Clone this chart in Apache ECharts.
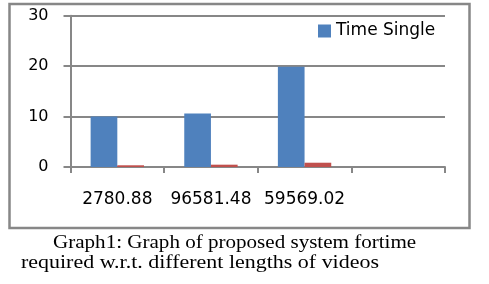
<!DOCTYPE html>
<html>
<head>
<meta charset="utf-8">
<script src="https://cdn.jsdelivr.net/npm/echarts@6/dist/echarts.min.js"></script>
<style>
html,body{margin:0;padding:0;background:#fff;}
#chart{width:489px;height:284px;}
</style>
</head>
<body>
<div id="chart"></div>
<script>
const categories = ['2780.88', '96581.48', '59569.02', ''];
const timeSingle = [10, 10.6, 19.9, null];
const timeOther = [0.34, 0.46, 0.85, null];
const yTicks = { min: 0, max: 30, interval: 10 };
const captionLine1 = 'Graph1: Graph of proposed system fortime';
const captionLine2 = 'required w.r.t. different lengths of videos';

const chart = echarts.init(document.getElementById('chart'), null, { renderer: 'canvas' });
const gray = '#878787';
const option = {
  animation: false,
  backgroundColor: '#fff',
  grid: { left: 70.5, right: 44, top: 15.7, bottom: 117 },
  legend: {
    data: ['Time Single'],
    left: 318, top: 22.5, padding: 0,
    itemWidth: 13, itemHeight: 13, itemGap: 10,
    icon: 'rect',
    textStyle: { fontFamily: 'DejaVu Sans', fontSize: 17, color: '#000' }
  },
  xAxis: {
    type: 'category',
    data: categories,
    axisLine: { lineStyle: { color: gray, width: 2 } },
    axisTick: { show: true, length: 6, lineStyle: { color: gray, width: 2 } },
    axisLabel: { fontFamily: 'DejaVu Sans', fontSize: 17, color: '#000', margin: 24, interval: 0 }
  },
  yAxis: {
    type: 'value',
    min: yTicks.min, max: yTicks.max, interval: yTicks.interval,
    axisLine: { show: true, lineStyle: { color: gray, width: 2 } },
    axisTick: { show: true, length: 7, lineStyle: { color: gray, width: 2 } },
    splitLine: { show: true, lineStyle: { color: gray, width: 2 } },
    axisLabel: { fontFamily: 'DejaVu Sans', fontSize: 16, color: '#000', margin: 22 }
  },
  series: [
    { name: 'Time Single', type: 'bar', data: timeSingle, barGap: '0%', barCategoryGap: '43%',
      itemStyle: { color: '#4F81BD' } },
    { name: 'Time Multi', type: 'bar', data: timeOther,
      itemStyle: { color: '#C0504D' } }
  ],
  graphic: [
    { type: 'rect', shape: { x: 9.5, y: 4, width: 460, height: 224 },
      style: { fill: 'none', stroke: gray, lineWidth: 2.5 }, silent: true },
    { type: 'text', x: 53, y: 252, scaleX: 1.17, originX: 0,
      style: { text: captionLine1, fontFamily: 'Liberation Serif', fontSize: 18, fill: '#000',
               textVerticalAlign: 'bottom', verticalAlign: 'bottom' } },
    { type: 'text', x: 21, y: 272, scaleX: 1.22, originX: 0,
      style: { text: captionLine2, fontFamily: 'Liberation Serif', fontSize: 18, fill: '#000',
               textVerticalAlign: 'bottom', verticalAlign: 'bottom' } }
  ]
};
chart.setOption(option);
</script>
</body>
</html>
